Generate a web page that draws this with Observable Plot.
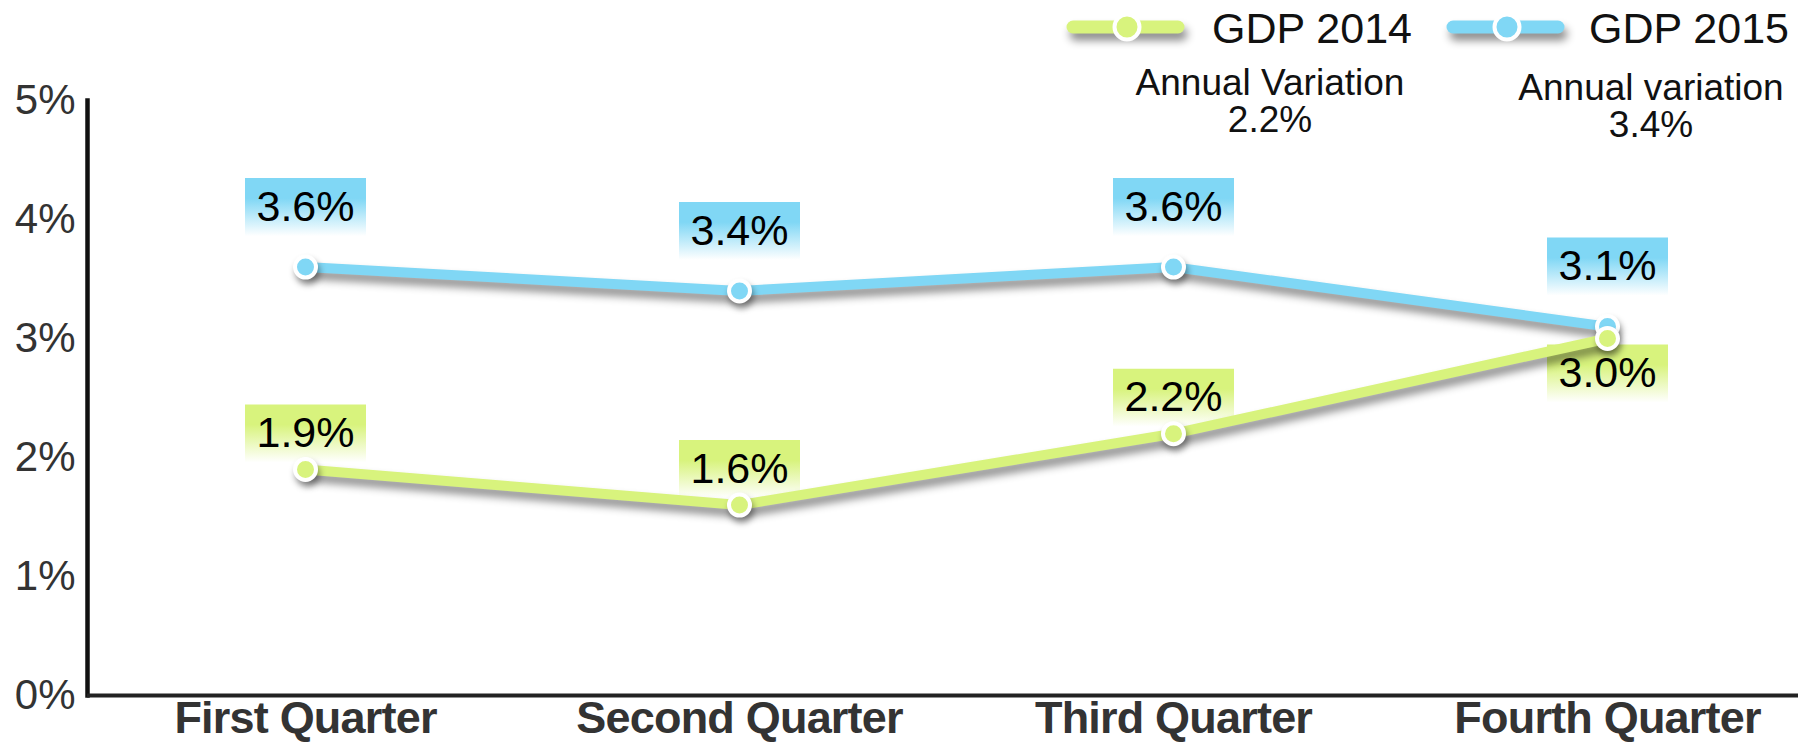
<!DOCTYPE html>
<html>
<head>
<meta charset="utf-8">
<script src="https://cdn.jsdelivr.net/npm/d3@7"></script>
<script src="https://cdn.jsdelivr.net/npm/@observablehq/plot@0.6"></script>
<style>
  body { margin: 0; background: #fff; }
  #wrap { position: relative; width: 1807px; height: 743px; font-family: "Liberation Sans", Arial, sans-serif; }
  #wrap svg.overlay { position: absolute; left: 0; top: 0; pointer-events: none; }
  #wrap [aria-label="line"] path { filter: drop-shadow(3px 7px 4px rgba(0,0,0,0.45)); }
  #wrap .shadowed { filter: drop-shadow(2px 5px 3px rgba(0,0,0,0.4)); }
  #wrap [aria-label="x-axis tick label"] text { letter-spacing: -0.8px; }
</style>
</head>
<body>
<div id="wrap"></div>
<script>
// ---- data ----
const quarters = ["First Quarter", "Second Quarter", "Third Quarter", "Fourth Quarter"];
const seriesNames = ["GDP 2014", "GDP 2015"];
const gdp2014 = [1.9, 1.6, 2.2, 3.0];
const gdp2015 = [3.6, 3.4, 3.6, 3.1];
const annualLabels = ["Annual Variation", "Annual variation"];
const annualValues = [2.2, 3.4];
const yTicks = [0, 1, 2, 3, 4, 5];

// ---- styles ----
const GREEN = "#d8f37d";
const BLUE = "#80d7f5";
const FONT = "'Liberation Sans', Arial, sans-serif";

const rows2014 = quarters.map((q, i) => ({q, v: gdp2014[i], other: gdp2015[i]}));
const rows2015 = quarters.map((q, i) => ({q, v: gdp2015[i]}));
const fmt = d => d.v.toFixed(1) + "%";
const below = d => d.other - d.v < 0.5;

const boxSymbol = {
  draw(ctx) {
    ctx.moveTo(-60.5, -29); ctx.lineTo(60.5, -29); ctx.lineTo(60.5, 29); ctx.lineTo(-60.5, 29); ctx.closePath();
  }
};

const chart = Plot.plot({
  width: 1807,
  height: 743,
  marginTop: 100,
  marginBottom: 48,
  marginLeft: 87,
  marginRight: 9,
  style: {fontFamily: FONT, background: "#fff", overflow: "visible"},
  x: {type: "point", domain: quarters, range: [304, 1608], padding: 0},
  y: {domain: [0, 5]},
  marks: [
    Plot.frame({anchor: "left", stroke: "#111", strokeWidth: 4.5}),
    Plot.ruleY([0], {stroke: "#222", strokeWidth: 4}),
    Plot.axisY(yTicks, {label: null, tickSize: 0, tickPadding: 12, tickFormat: d => d + "%", fontSize: 42, fill: "#333"}),
    Plot.axisX({label: null, tickSize: 0, tickPadding: 6, fontSize: 45, fontWeight: "bold", fill: "#333"}),
    // label boxes
    Plot.dot(rows2015, {x: "q", y: "v", symbol: boxSymbol, r: 10, fill: "url(#gradBlue)", dy: -60}),
    Plot.dot(rows2014, {filter: d => !below(d), x: "q", y: "v", symbol: boxSymbol, r: 10, fill: "url(#gradGreen)", dy: -36}),
    Plot.dot(rows2014, {filter: below, x: "q", y: "v", symbol: boxSymbol, r: 10, fill: "url(#gradGreen)", dy: 35}),
    Plot.text(rows2015, {x: "q", y: "v", text: fmt, dy: -60, fontSize: 43, fill: "#000"}),
    Plot.text(rows2014, {filter: d => !below(d), x: "q", y: "v", text: fmt, dy: -36, fontSize: 43, fill: "#000"}),
    Plot.text(rows2014, {filter: below, x: "q", y: "v", text: fmt, dy: 35, fontSize: 43, fill: "#000"}),
    // series
    Plot.line(rows2015, {x: "q", y: "v", stroke: BLUE, strokeWidth: 10}),
    Plot.dot(rows2015, {x: "q", y: "v", r: 10.5, fill: BLUE, stroke: "#fff", strokeWidth: 4}),
    Plot.line(rows2014, {x: "q", y: "v", stroke: GREEN, strokeWidth: 10}),
    Plot.dot(rows2014, {x: "q", y: "v", r: 10.5, fill: GREEN, stroke: "#fff", strokeWidth: 4})
  ]
});

// gradients for label boxes
const defs = d3.select(chart).insert("defs", ":first-child");
[["gradBlue", BLUE], ["gradGreen", GREEN]].forEach(([id, c]) => {
  const g = defs.append("linearGradient").attr("id", id).attr("x1", 0).attr("y1", 0).attr("x2", 0).attr("y2", 1);
  g.append("stop").attr("offset", 0).attr("stop-color", c);
  g.append("stop").attr("offset", 0.35).attr("stop-color", c);
  g.append("stop").attr("offset", 1).attr("stop-color", "#fff");
});
d3.select(chart).selectAll('g[aria-label="dot"]').each(function () {
  const f = this.getAttribute("fill") || "";
  if (!f.startsWith("url")) this.classList.add("shadowed");
});

const wrap = document.getElementById("wrap");
wrap.appendChild(chart);

// legend + annotations overlay
const ov = d3.select(wrap).append("svg").attr("class", "overlay")
  .attr("width", 1807).attr("height", 743).style("font-family", FONT);
const legend = [
  {name: seriesNames[0], color: GREEN, x0: 1073, tx: 1212},
  {name: seriesNames[1], color: BLUE, x0: 1453, tx: 1589}
];
legend.forEach(l => {
  const g = ov.append("g");
  g.append("line").attr("x1", l.x0).attr("x2", l.x0 + 105).attr("y1", 27).attr("y2", 27)
    .attr("stroke", l.color).attr("stroke-width", 13).attr("stroke-linecap", "round")
    .style("filter", "drop-shadow(3px 7px 4px rgba(0,0,0,0.45))");
  g.append("circle").attr("cx", l.x0 + 54).attr("cy", 27).attr("r", 12.5)
    .attr("fill", l.color).attr("stroke", "#fff").attr("stroke-width", 4);
  g.append("text").attr("x", l.tx).attr("y", 43).attr("font-size", 43).attr("fill", "#111").text(l.name);
});
const ann = [
  {cx: 1270, y: 95},
  {cx: 1651, y: 100}
];
ann.forEach((a, i) => {
  ov.append("text").attr("x", a.cx).attr("y", a.y).attr("text-anchor", "middle").attr("font-size", 37).attr("fill", "#111").text(annualLabels[i]);
  ov.append("text").attr("x", a.cx).attr("y", a.y + 37).attr("text-anchor", "middle").attr("font-size", 37).attr("fill", "#111").text(annualValues[i].toFixed(1) + "%");
});
</script>
</body>
</html>
